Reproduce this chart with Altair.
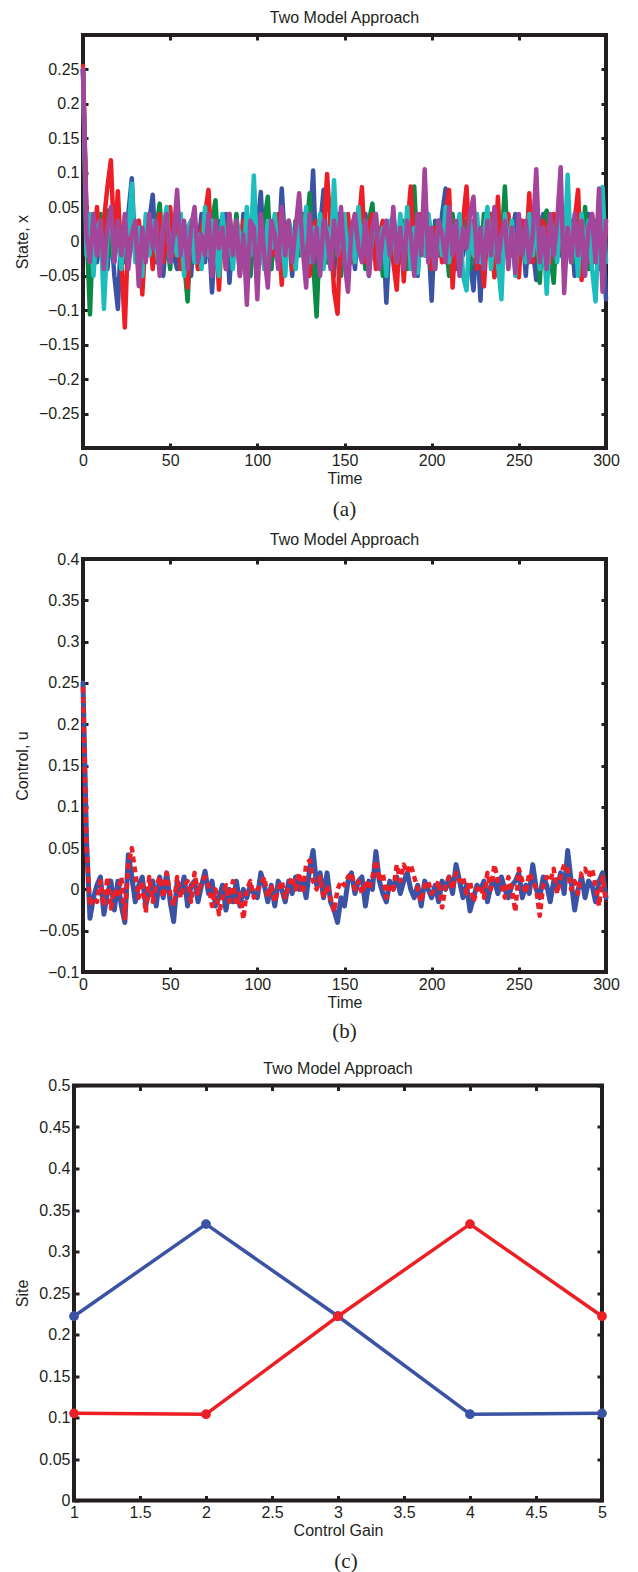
import altair as alt
import pandas as pd

FONT = "Liberation Sans"
SERIF = "Liberation Serif"
INK = "#231f20"
TICK = 5

# ---------- panel (a): state trajectories, sampled every 2 time units ----------
time_a = list(range(0, 301, 2))
x_blue = [.25,.03,-.02,.04,-.03,.01,.03,-.04,.02,-.05,
          -.098,.02,-.03,.04,.092,-.02,.03,-.04,.01,.03,
          .068,-.03,.02,-.05,.01,.04,-.02,-.04,.03,-.01,
          .02,-.05,.03,-.01,.04,-.03,.02,-.074,.01,.03,
          -.02,.04,-.06,.01,.02,-.03,.04,-.01,-.05,.03,
          .02,.072,-.03,.01,-.04,.03,-.02,.077,-.01,.02,
          -.05,.03,-.02,.04,-.03,.01,.103,-.04,.02,.075,
          -.03,.01,-.05,.04,-.02,.03,-.01,.02,-.04,.03,
          -.02,.04,-.05,.01,.03,-.03,.02,-.089,.01,.04,
          -.03,.02,-.04,.03,-.01,.02,-.05,.04,-.02,.01,
          -.086,.03,-.02,.04,.077,-.03,.01,-.04,.03,-.02,
          .02,-.03,-.071,.01,-.086,.03,-.02,.04,-.01,.02,
          -.04,.03,-.02,.01,.04,-.03,.02,-.05,.03,-.01,
          -.056,.02,.04,-.03,.01,-.04,.03,-.02,.04,-.01,
          .02,-.05,.03,-.02,.01,.04,-.03,.02,-.04,.03,
          -.084]
x_green = [.25,.02,-.106,.03,-.01,.04,-.03,.045,-.02,.01,
           .03,-.04,.02,-.03,.04,-.01,.02,-.05,.03,.01,
           -.03,.02,.055,-.02,.01,-.04,.03,-.02,.04,-.03,
           -.087,.02,.03,-.04,.01,.04,-.02,.03,.06,-.03,
           .01,-.04,.03,-.02,.04,-.03,.01,.02,-.05,.03,
           -.02,.01,.03,.065,-.04,.02,-.03,.04,-.01,.02,
           -.04,.03,-.02,.04,.01,.07,-.03,-.109,.02,.03,
           -.03,.04,-.02,.01,-.05,.03,.02,-.03,.04,-.01,
           .02,-.04,.03,.055,-.02,.01,-.05,.03,-.02,.04,
           -.03,.01,.03,-.04,.02,.08,-.03,.01,-.02,.04,
           -.04,.02,.03,-.02,.01,-.05,.04,-.03,.02,-.01,
           .03,-.04,.02,.01,-.03,.04,-.02,.03,-.05,.02,
           -.01,.08,-.03,.02,-.04,.03,.01,-.02,.04,-.03,
           .02,-.06,.03,.045,-.02,-.06,.03,.01,-.04,.02,
           .03,-.03,.01,-.02,.05,-.04,.02,.03,-.03,.01,
           .03]
x_red = [.255,.04,.02,-.03,.05,-.02,.03,.079,.118,-.01,
         .073,-.03,-.125,.02,.04,-.02,.03,-.077,.01,.03,
         -.04,.02,.04,-.03,.01,.05,-.02,.03,-.04,.02,
         -.067,.03,.01,-.04,.02,.04,.075,-.03,.02,-.07,
         .03,-.02,.04,-.01,.02,-.05,.03,-.02,.01,.04,
         -.03,.02,-.04,.03,.01,-.02,.04,-.063,.02,.03,
         -.04,.01,.03,-.02,.04,-.05,.02,.03,-.03,.01,
         .098,.02,-.071,-.105,.03,-.02,.04,-.03,.01,.02,
         .079,-.03,.02,.04,-.04,.01,.03,-.02,.02,-.03,
         -.07,.03,-.058,.02,.08,-.03,.01,.04,-.02,.03,
         -.04,.02,.01,-.03,.04,.075,-.067,.02,-.03,.03,
         .08,-.02,.03,-.04,.01,-.065,.02,.04,-.052,.065,
         -.03,.02,.04,-.02,.01,-.052,.03,-.02,.07,-.03,
         .02,-.04,.03,.01,-.03,.04,-.02,.03,-.04,.02,
         -.01,.03,.075,-.056,.02,-.03,.04,-.02,.01,-.04,
         .02]
x_cyan = [.25,-.02,.04,-.05,.02,.03,-.098,.01,.04,-.03,
          .02,-.04,.03,.01,.084,-.03,.02,-.05,.04,-.02,
          .03,-.01,-.04,.02,.05,-.03,.01,-.02,.04,-.05,
          .02,.03,-.03,.01,-.04,.05,-.02,.03,-.01,-.05,
          .04,-.02,.02,-.04,.03,.01,-.03,.05,-.02,.096,
          -.03,.02,-.04,.03,-.01,.04,-.03,.02,-.05,.03,
          .01,-.04,.03,-.02,.05,-.03,.02,-.01,.04,-.04,
          .02,-.03,.089,-.02,.01,.04,-.04,.02,-.03,.05,
          -.02,.03,-.04,.01,.04,-.03,.02,-.05,.03,.01,
          -.03,.04,-.02,.05,-.04,.02,-.046,.03,-.02,.04,
          .01,-.04,.03,-.02,.05,-.03,.02,-.01,.04,-.05,
          -.071,.03,-.02,.04,-.03,.01,.05,-.04,.02,-.03,
          -.084,.04,-.02,.03,-.05,.02,.01,-.03,.04,-.02,
          .03,-.04,.02,-.076,.03,.01,-.03,.04,-.02,.097,
          -.03,.02,-.05,.04,-.02,.03,-.04,-.087,.02,.079,
          -.03]
x_magenta = [.25,.01,-.03,.04,-.02,.03,-.04,.02,.05,-.03,
             .03,-.02,.04,-.04,.01,.03,-.065,.02,-.03,.04,
             -.01,.03,-.05,.02,.04,-.03,.01,.075,-.02,.03,
             -.04,.02,.05,-.03,.01,-.02,.04,-.05,.03,-.01,
             .02,-.04,.04,-.02,.03,-.05,.01,-.092,.03,.02,
             -.084,.04,-.02,-.067,.03,.01,-.04,.05,-.02,.03,
             -.03,.02,.07,-.01,-.067,.04,-.03,.02,-.05,.03,
             .01,-.04,.03,-.02,.05,-.03,-.073,.02,.04,-.01,
             -.03,.03,-.049,.02,.04,-.04,.01,.03,-.02,.05,
             -.03,.02,-.04,.03,.01,-.05,.04,-.02,.105,-.03,
             .02,-.04,.03,.01,-.03,.05,-.02,.03,-.05,.02,
             -.01,.04,.065,-.03,.02,-.04,.03,-.02,.05,-.03,
             .01,.03,-.04,.02,-.046,.04,-.02,.03,-.03,.01,
             .105,-.03,.02,-.04,.04,-.02,.03,.108,-.075,.02,
             -.03,.04,-.02,.03,-.05,.02,.04,-.03,.077,-.073,
             .03]

# ---------- panel (b): controls, sampled every 2 time units ----------
time_b = list(range(0, 301, 2))
u_blue = [.25,.06,-.035,-.01,.005,.015,-.03,-.005,.01,-.025,
          .01,-.02,-.04,.042,.015,-.015,.005,.015,-.02,.0,
          .01,-.02,.015,-.01,.02,-.015,-.039,.01,-.005,.015,
          -.02,.005,.01,-.015,.005,.022,-.005,.01,-.02,-.01,
          .005,-.025,.0,-.015,.01,-.02,.0,-.01,.005,-.005,
          -.01,.02,.005,-.015,.005,-.02,.01,.0,-.015,.01,
          -.005,.015,.0,.01,-.01,.025,.047,.005,.02,-.01,
          .02,-.015,-.025,-.04,-.01,-.02,.01,.02,-.005,.01,
          .015,-.02,.01,.0,.046,.01,-.005,-.015,.01,.0,
          .015,-.005,.01,.02,.0,-.01,.005,-.02,.01,.0,
          -.01,.005,-.015,.01,.0,.015,-.005,.03,.01,-.01,
          .005,-.026,-.01,.005,.0,.01,-.015,.005,.01,-.005,
          .015,.0,-.01,.005,.01,.02,-.01,.005,-.005,.03,
          .0,-.01,.015,.005,-.015,.01,.0,.02,-.005,.047,
          .01,-.025,.0,.015,-.01,.01,.005,-.015,.01,.02,
          -.01]
u_red = [.245,.05,-.02,-.01,-.015,.01,-.02,.015,-.023,.0,
         -.01,.015,-.035,.03,.05,.02,-.01,.01,-.028,.015,
         -.015,.005,.015,-.01,.02,-.005,-.02,.015,-.01,.005,
         .01,-.015,.02,-.005,.01,.015,.005,-.02,.0,-.03,
         -.01,.005,-.015,.01,-.02,-.005,-.036,.0,.01,-.01,
         .0,.005,.015,-.01,.005,-.015,.0,.01,-.01,.005,
         .015,.0,.02,-.005,.03,.035,.01,.0,.015,-.01,
         .005,-.01,-.027,.0,.01,.005,.015,.02,.0,.01,
         -.005,.01,.0,.015,.035,.01,.02,-.01,.005,.0,
         .03,.01,.03,.02,.03,.015,.0,-.015,.005,.01,
         -.005,.0,.01,-.022,.005,.015,.0,.02,.01,.015,
         -.005,.01,-.015,.0,.005,-.01,.02,.0,.03,.01,
         .005,-.01,.015,.0,-.027,.025,.01,-.005,.02,.01,
         .0,-.032,.005,.015,.01,.025,-.005,.015,.03,.025,
         .0,.01,-.005,.02,.025,.015,.025,.005,-.02,.015,
         -.015]

# ---------- panel (c): site vs control gain ----------
gain = [1, 2, 3, 4, 5]
site_blue = [0.222, 0.333, 0.222, 0.104, 0.105]
site_red = [0.105, 0.104, 0.222, 0.333, 0.222]

# ---------- tick values ----------
ticks_time = [0, 50, 100, 150, 200, 250, 300]
ticks_state = [-0.25, -0.2, -0.15, -0.1, -0.05, 0, 0.05, 0.1, 0.15, 0.2, 0.25]
ticks_control = [-0.1, -0.05, 0, 0.05, 0.1, 0.15, 0.2, 0.25, 0.3, 0.35, 0.4]
ticks_gain = [1, 1.5, 2, 2.5, 3, 3.5, 4, 4.5, 5]
ticks_site = [0, 0.05, 0.1, 0.15, 0.2, 0.25, 0.3, 0.35, 0.4, 0.45, 0.5]

for arr in (x_blue, x_green, x_red, x_cyan, x_magenta, u_blue, u_red):
    assert len(arr) == 151, len(arr)

BLUE = "#3a53a4"
GREEN = "#0b8a45"
RED = "#ed1f26"
CYAN = "#1cbdbd"
MAGENTA = "#a2459b"


def main_axis(orient, values, title):
    return alt.Axis(orient=orient, values=values, format="~r", title=title,
                    offset=-TICK, tickSize=TICK, tickWidth=3, tickColor=INK,
                    domain=False, grid=False, labelFlush=False, labelOverlap=False,
                    labelFont=FONT, labelFontSize=16, labelColor=INK, labelPadding=4,
                    titleFont=FONT, titleFontSize=16, titleFontWeight="normal",
                    titleColor=INK, titlePadding=(2 if orient == "bottom" else 8))


def tick_axis(orient, values):
    return alt.Axis(orient=orient, values=values, labels=False, title=None,
                    offset=-TICK, tickSize=TICK, tickWidth=3, tickColor=INK,
                    domain=False, grid=False)


def panel(series, xdom, ydom, xticks, yticks, xtitle, ytitle, w, h, caption,
          cap_dy, title_off, cap_dx=0, points=False):
    layers = []
    for i, (df, color, style) in enumerate(series):
        if i == 0:
            xax = main_axis("bottom", xticks, xtitle)
            yax = main_axis("left", yticks, ytitle)
        else:
            xax = None
            yax = None
        mk = dict(color=color, strokeWidth=style.get("width", 4.5),
                  strokeJoin="round", strokeCap=style.get("cap", "round"))
        if "dash" in style:
            mk["strokeDash"] = style["dash"]
        if points:
            mk["point"] = alt.OverlayMarkDef(filled=True, size=95, color=color, opacity=1)
        layers.append(
            alt.Chart(df).mark_line(**mk).encode(
                x=alt.X("x:Q", axis=xax, scale=alt.Scale(domain=xdom, nice=False, zero=False)),
                y=alt.Y("y:Q", axis=yax, scale=alt.Scale(domain=ydom, nice=False, zero=False)),
            )
        )
    # inner ticks on top and right edges
    layers.append(
        alt.Chart(series[0][0]).mark_line(strokeOpacity=0).encode(
            x=alt.X("x:Q", axis=tick_axis("top", xticks)),
            y=alt.Y("y:Q", axis=tick_axis("right", yticks)),
        )
    )
    layers.append(
        alt.Chart(pd.DataFrame({"c": [caption]})).mark_text(
            font=SERIF, fontSize=21, color=INK, baseline="middle"
        ).encode(text="c:N", x=alt.value(w / 2 + cap_dx), y=alt.value(h + cap_dy))
    )
    body = alt.layer(*layers).resolve_axis(x="independent", y="independent").properties(
        width=w, height=h,
        title=alt.TitleParams("Two Model Approach", font=FONT, fontSize=16,
                              fontWeight="normal", color=INK, anchor="middle",
                              offset=title_off),
    )
    # tiny invisible spacer so each panel is placed by its own left extent
    spacer = alt.Chart(pd.DataFrame({"v": [0]})).mark_point(opacity=0).encode(
        x=alt.value(0), y=alt.value(0)
    ).properties(width=1, height=1, view=alt.ViewBackground(stroke="transparent"))
    return alt.hconcat(spacer, body, spacing=-6)


def df_xy(xs, ys):
    return pd.DataFrame({"x": xs, "y": ys})


pa = panel(
    [(df_xy(time_a, x_blue), BLUE, {}),
     (df_xy(time_a, x_green), GREEN, {}),
     (df_xy(time_a, x_red), RED, {}),
     (df_xy(time_a, x_cyan), CYAN, {}),
     (df_xy(time_a, x_magenta), MAGENTA, {})],
    [0, 300], [-0.3, 0.3], ticks_time, ticks_state, "Time", "State, x", 523, 413, "(a)",
    62, 7.5)

pb = panel(
    [(df_xy(time_b, u_blue), BLUE, {"width": 5}),
     (df_xy(time_b, u_red), RED, {"width": 4.5, "dash": [6, 4], "cap": "butt"})],
    [0, 300], [-0.1, 0.4], ticks_time, ticks_control, "Time", "Control, u", 523, 413, "(b)",
    59.5, 3.5)

pc = panel(
    [(df_xy(gain, site_blue), BLUE, {"width": 3.5}),
     (df_xy(gain, site_red), RED, {"width": 3.5})],
    [1, 5], [0, 0.5], ticks_gain, ticks_site, "Control Gain", "Site", 528, 415, "(c)",
    61, 0.5, cap_dx=8, points=True)

top_two = alt.vconcat(pa, pb, spacing=7)
chart = alt.vconcat(top_two, pc, spacing=14.5).properties(
    padding={"top": 0, "left": 0, "right": 0, "bottom": 0}
).configure(background="white").configure_view(stroke=INK, strokeWidth=4)

chart.save("out.html", embed_options={"renderer": "svg", "actions": False})
